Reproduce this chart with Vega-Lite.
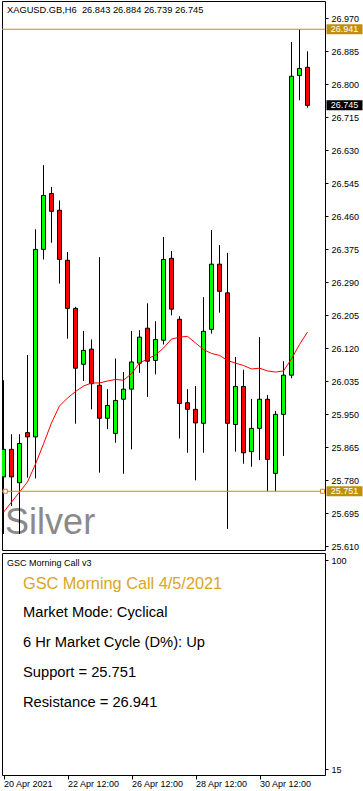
{
  "$schema": "https://vega.github.io/schema/vega-lite/v6.json",
  "background": "white",
  "padding": 0,
  "spacing": 0,
  "config": {
    "view": {"stroke": "black", "strokeWidth": 1},
    "font": "Liberation Sans",
    "axis": {"labelFont": "Liberation Sans", "labelFontSize": 9, "labelColor": "black", "tickColor": "black", "tickWidth": 1, "domain": false, "grid": false, "labelOverlap": false}
  },
  "datasets": {
    "candles": [
      {"i": 0, "t": "2021-04-20 12:00", "o": 25.788, "h": 26.037, "l": 25.641, "c": 25.859, "ma": 25.697},
      {"i": 1, "t": "2021-04-20 18:00", "o": 25.859, "h": 25.898, "l": 25.713, "c": 25.788, "ma": 25.723},
      {"i": 2, "t": "2021-04-21 00:00", "o": 25.773, "h": 25.898, "l": 25.641, "c": 25.874, "ma": 25.749},
      {"i": 3, "t": "2021-04-21 06:00", "o": 25.902, "h": 26.102, "l": 25.786, "c": 25.891, "ma": 25.775},
      {"i": 4, "t": "2021-04-21 12:00", "o": 25.891, "h": 26.426, "l": 25.784, "c": 26.374, "ma": 25.821},
      {"i": 5, "t": "2021-04-21 18:00", "o": 26.374, "h": 26.591, "l": 26.348, "c": 26.513, "ma": 25.873},
      {"i": 6, "t": "2021-04-22 00:00", "o": 26.518, "h": 26.535, "l": 26.391, "c": 26.472, "ma": 25.927},
      {"i": 7, "t": "2021-04-22 06:00", "o": 26.475, "h": 26.500, "l": 26.286, "c": 26.348, "ma": 25.971},
      {"i": 8, "t": "2021-04-22 12:00", "o": 26.346, "h": 26.367, "l": 26.144, "c": 26.222, "ma": 25.991},
      {"i": 9, "t": "2021-04-22 18:00", "o": 26.222, "h": 26.226, "l": 25.925, "c": 26.068, "ma": 26.008},
      {"i": 10, "t": "2021-04-23 00:00", "o": 26.078, "h": 26.164, "l": 26.035, "c": 26.114, "ma": 26.022},
      {"i": 11, "t": "2021-04-23 06:00", "o": 26.117, "h": 26.142, "l": 25.962, "c": 26.028, "ma": 26.030},
      {"i": 12, "t": "2021-04-23 12:00", "o": 26.024, "h": 26.354, "l": 25.799, "c": 25.939, "ma": 26.030},
      {"i": 13, "t": "2021-04-23 18:00", "o": 25.939, "h": 26.014, "l": 25.911, "c": 25.972, "ma": 26.035},
      {"i": 14, "t": "2021-04-26 00:00", "o": 25.900, "h": 26.093, "l": 25.876, "c": 25.985, "ma": 26.039},
      {"i": 15, "t": "2021-04-26 06:00", "o": 25.988, "h": 26.058, "l": 25.796, "c": 26.014, "ma": 26.037},
      {"i": 16, "t": "2021-04-26 12:00", "o": 26.014, "h": 26.164, "l": 25.859, "c": 26.084, "ma": 26.054},
      {"i": 17, "t": "2021-04-26 18:00", "o": 26.081, "h": 26.166, "l": 26.056, "c": 26.148, "ma": 26.081},
      {"i": 18, "t": "2021-04-27 00:00", "o": 26.171, "h": 26.235, "l": 25.994, "c": 26.086, "ma": 26.092},
      {"i": 19, "t": "2021-04-27 06:00", "o": 26.088, "h": 26.189, "l": 26.052, "c": 26.142, "ma": 26.102},
      {"i": 20, "t": "2021-04-27 12:00", "o": 26.140, "h": 26.406, "l": 26.129, "c": 26.348, "ma": 26.120},
      {"i": 21, "t": "2021-04-27 18:00", "o": 26.351, "h": 26.370, "l": 26.204, "c": 26.220, "ma": 26.143},
      {"i": 22, "t": "2021-04-28 00:00", "o": 26.194, "h": 26.202, "l": 25.887, "c": 25.977, "ma": 26.148},
      {"i": 23, "t": "2021-04-28 06:00", "o": 25.979, "h": 26.014, "l": 25.850, "c": 25.962, "ma": 26.150},
      {"i": 24, "t": "2021-04-28 12:00", "o": 25.962, "h": 26.022, "l": 25.779, "c": 25.927, "ma": 26.133},
      {"i": 25, "t": "2021-04-28 18:00", "o": 25.926, "h": 26.251, "l": 25.850, "c": 26.163, "ma": 26.116},
      {"i": 26, "t": "2021-04-29 00:00", "o": 26.168, "h": 26.424, "l": 26.157, "c": 26.336, "ma": 26.106},
      {"i": 27, "t": "2021-04-29 06:00", "o": 26.336, "h": 26.385, "l": 26.211, "c": 26.266, "ma": 26.101},
      {"i": 28, "t": "2021-04-29 12:00", "o": 26.262, "h": 26.365, "l": 25.654, "c": 25.926, "ma": 26.088},
      {"i": 29, "t": "2021-04-29 18:00", "o": 25.923, "h": 26.097, "l": 25.853, "c": 26.021, "ma": 26.081},
      {"i": 30, "t": "2021-04-30 00:00", "o": 26.021, "h": 26.064, "l": 25.822, "c": 25.850, "ma": 26.075},
      {"i": 31, "t": "2021-04-30 06:00", "o": 25.853, "h": 25.989, "l": 25.814, "c": 25.913, "ma": 26.066},
      {"i": 32, "t": "2021-04-30 12:00", "o": 25.913, "h": 26.148, "l": 25.831, "c": 25.988, "ma": 26.068},
      {"i": 33, "t": "2021-04-30 18:00", "o": 25.988, "h": 25.999, "l": 25.751, "c": 25.833, "ma": 26.061},
      {"i": 34, "t": "2021-05-03 00:00", "o": 25.797, "h": 25.958, "l": 25.751, "c": 25.949, "ma": 26.058},
      {"i": 35, "t": "2021-05-03 06:00", "o": 25.949, "h": 26.086, "l": 25.842, "c": 26.050, "ma": 26.061},
      {"i": 36, "t": "2021-05-03 12:00", "o": 26.050, "h": 26.908, "l": 26.042, "c": 26.820, "ma": 26.092},
      {"i": 37, "t": "2021-05-03 18:00", "o": 26.822, "h": 26.941, "l": 26.758, "c": 26.840, "ma": 26.129},
      {"i": 38, "t": "2021-05-04 00:00", "o": 26.843, "h": 26.884, "l": 26.739, "c": 26.745, "ma": 26.161}
    ],
    "tags": [
      {"kind": "Resistance", "price": 26.941},
      {"kind": "Support", "price": 25.751},
      {"kind": "Last", "price": 26.745}
    ]
  },
  "vconcat": [
    {
      "width": 323,
      "height": 549,
      "data": {"name": "candles"},
      "resolve": {"axis": {"x": "independent", "y": "independent"}},
      "layer": [
        {
          "data": {"values": [{}]},
          "mark": {"type": "text", "text": "Silver", "fontSize": 36, "font": "Liberation Sans", "color": "#8a8a8a", "align": "left", "baseline": "alphabetic"},
          "encoding": {
            "x": {"datum": 0.2, "type": "quantitative", "scale": {"domain": [-0.1875, 40.1875], "padding": 0, "nice": false, "zero": false}, "axis": null},
            "y": {"datum": 25.6417, "type": "quantitative", "scale": {"domain": [25.5997, 27.0138], "padding": 0, "nice": false, "zero": false},
              "axis": {"orient": "right", "title": null, "values": [25.61, 25.695, 25.78, 25.865, 25.95, 26.035, 26.12, 26.205, 26.29, 26.375, 26.46, 26.545, 26.63, 26.715, 26.8, 26.885, 26.97], "format": ".3f", "tickSize": 3, "labelPadding": 3, "labelFontSize": 9, "labelOverlap": false, "labelFlush": false}}
          }
        },
        {
          "mark": {"type": "rule", "color": "black", "strokeWidth": 1, "clip": true},
          "encoding": {
            "x": {"field": "i", "type": "quantitative", "axis": null},
            "y": {"field": "l", "type": "quantitative", "axis": null},
            "y2": {"field": "h"}
          }
        },
        {
          "mark": {"type": "bar", "size": 4, "stroke": "black", "strokeWidth": 1, "orient": "vertical", "clip": true},
          "encoding": {
            "x": {"field": "i", "type": "quantitative", "axis": null},
            "y": {"field": "o", "type": "quantitative", "axis": null},
            "y2": {"field": "c"},
            "fill": {"condition": {"test": "datum.c >= datum.o", "value": "#00FF00"}, "value": "#FF0000"}
          }
        },
        {
          "mark": {"type": "line", "color": "#FF0000", "strokeWidth": 1, "clip": true},
          "encoding": {
            "x": {"field": "i", "type": "quantitative", "axis": null},
            "y": {"field": "ma", "type": "quantitative", "axis": null}
          }
        },
        {
          "data": {"name": "tags"},
          "transform": [{"filter": "datum.kind != 'Last'"}],
          "mark": {"type": "rule", "color": "#C0900A", "strokeWidth": 1},
          "encoding": {
            "y": {"field": "price", "type": "quantitative", "axis": null}
          }
        },
        {
          "data": {"name": "tags"},
          "transform": [{"filter": "datum.kind == 'Support'"}],
          "mark": {"type": "point", "shape": "square", "size": 16, "filled": true, "fill": "white", "stroke": "#C0900A", "strokeWidth": 1, "opacity": 1},
          "encoding": {
            "x": {"datum": 0.225, "type": "quantitative", "axis": null},
            "y": {"field": "price", "type": "quantitative", "axis": null}
          }
        },
        {
          "data": {"name": "tags"},
          "transform": [{"filter": "datum.kind == 'Support'"}],
          "mark": {"type": "point", "shape": "square", "size": 16, "filled": true, "fill": "white", "stroke": "#C0900A", "strokeWidth": 1, "opacity": 1},
          "encoding": {
            "x": {"datum": 39.875, "type": "quantitative", "axis": null},
            "y": {"field": "price", "type": "quantitative", "axis": null}
          }
        },
        {
          "data": {"values": [{}]},
          "mark": {"type": "text", "text": "XAGUSD.GB,H6\u00a0\u00a026.843 26.884 26.739 26.745", "fontSize": 9.3, "color": "black", "align": "left", "baseline": "middle"},
          "encoding": {
            "x": {"datum": 0.4375, "type": "quantitative", "axis": null},
            "y": {"datum": 26.9919, "type": "quantitative", "axis": null}
          }
        },
        {
          "data": {"name": "tags"},
          "mark": {"type": "tick", "orient": "horizontal", "size": 36, "thickness": 10, "opacity": 1},
          "encoding": {
            "x": {"datum": 42.625, "type": "quantitative", "axis": null},
            "y": {"field": "price", "type": "quantitative", "axis": null},
            "color": {"field": "kind", "type": "nominal", "scale": {"domain": ["Resistance", "Support", "Last"], "range": ["#C0900A", "#C0900A", "#000000"]}, "legend": null}
          }
        },
        {
          "data": {"name": "tags"},
          "mark": {"type": "text", "color": "white", "fontSize": 9, "align": "center", "baseline": "middle"},
          "encoding": {
            "x": {"datum": 42.625, "type": "quantitative", "axis": null},
            "y": {"field": "price", "type": "quantitative", "axis": null},
            "text": {"field": "price", "type": "quantitative", "format": ".3f"}
          }
        }
      ]
    },
    {
      "width": 323,
      "height": 222,
      "data": {"values": [{}]},
      "resolve": {"axis": {"x": "independent", "y": "independent"}},
      "layer": [
        {
          "mark": {"type": "text", "text": "GSC Morning Call v3", "fontSize": 9, "color": "black", "align": "left", "baseline": "middle"},
          "encoding": {
            "x": {"datum": 0.4375, "type": "quantitative", "scale": {"domain": [-0.1875, 40.1875], "padding": 0, "nice": false, "zero": false},
              "axis": {"orient": "bottom", "title": null, "values": [0, 8, 16, 24, 32], "labelExpr": "datum.value == 0 ? '20 Apr 2021' : datum.value == 8 ? '22 Apr 12:00' : datum.value == 16 ? '26 Apr 12:00' : datum.value == 24 ? '28 Apr 12:00' : '30 Apr 12:00'", "labelAlign": "left", "labelFlush": false, "labelOverlap": false, "tickSize": 4, "labelPadding": 0, "labelFontSize": 9}},
            "y": {"datum": 98.78, "type": "quantitative", "scale": {"domain": [12.56, 102.85], "padding": 0, "nice": false, "zero": false},
              "axis": {"orient": "right", "title": null, "values": [15, 100], "format": "d", "tickSize": 3, "labelPadding": 3, "labelFontSize": 9, "labelFlush": false, "labelOverlap": false}}
          }
        },
        {
          "mark": {"type": "text", "text": "GSC Morning Call 4/5/2021", "fontSize": 16.3, "color": "#DAA520", "align": "left", "baseline": "middle"},
          "encoding": {
            "x": {"datum": 2.4375, "type": "quantitative", "axis": null},
            "y": {"datum": 90.36, "type": "quantitative", "axis": null}
          }
        },
        {
          "mark": {"type": "text", "text": "Market Mode: Cyclical", "fontSize": 14.7, "color": "black", "align": "left", "baseline": "middle"},
          "encoding": {
            "x": {"datum": 2.4375, "type": "quantitative", "axis": null},
            "y": {"datum": 78.57, "type": "quantitative", "axis": null}
          }
        },
        {
          "mark": {"type": "text", "text": "6 Hr Market Cycle (D%): Up", "fontSize": 14.7, "color": "black", "align": "left", "baseline": "middle"},
          "encoding": {
            "x": {"datum": 2.4375, "type": "quantitative", "axis": null},
            "y": {"datum": 66.37, "type": "quantitative", "axis": null}
          }
        },
        {
          "mark": {"type": "text", "text": "Support = 25.751", "fontSize": 14.7, "color": "black", "align": "left", "baseline": "middle"},
          "encoding": {
            "x": {"datum": 2.4375, "type": "quantitative", "axis": null},
            "y": {"datum": 54.17, "type": "quantitative", "axis": null}
          }
        },
        {
          "mark": {"type": "text", "text": "Resistance = 26.941", "fontSize": 14.7, "color": "black", "align": "left", "baseline": "middle"},
          "encoding": {
            "x": {"datum": 2.4375, "type": "quantitative", "axis": null},
            "y": {"datum": 41.97, "type": "quantitative", "axis": null}
          }
        }
      ]
    }
  ]
}
